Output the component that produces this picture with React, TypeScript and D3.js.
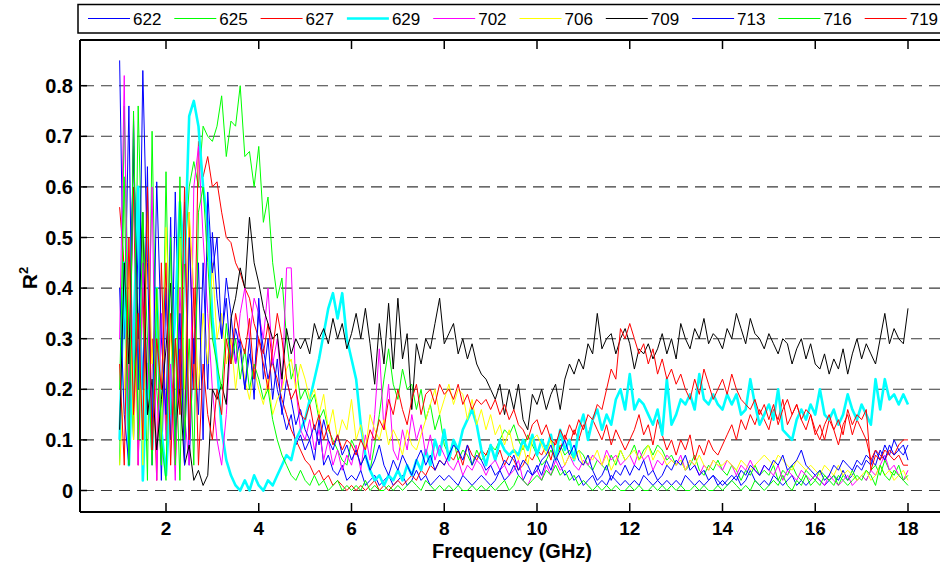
import React from 'react';
import * as d3 from 'd3';

// Frequency grid (GHz): 1.0 .. 18.0 in 0.1 GHz steps
const FREQ_START = 1.0;
const FREQ_STEP = 0.1;

// R^2 values per series, one row per GHz (x.0 .. x.9), last value at 18.0
const s622 = [
  0.85, 0.3, 0.76, 0.1, 0.5, 0.2, 0.64, 0.05, 0.35, 0.02,
  0.4, 0.1, 0.59, 0.2, 0.57, 0.05, 0.3, 0.15, 0.45, 0.2,
  0.51, 0.38, 0.3, 0.42, 0.35, 0.25, 0.3, 0.2, 0.27, 0.22,
  0.35, 0.28, 0.22, 0.26, 0.2, 0.16, 0.12, 0.15, 0.09, 0.11,
  0.08, 0.1, 0.06, 0.14, 0.05, 0.07, 0.04, 0.03, 0.05, 0.02,
  0.03, 0.02, 0.04, 0.01, 0.02, 0.03, 0.01, 0.02, 0.03, 0.01,
  0.02, 0.03, 0.01, 0.02, 0.04, 0.02, 0.03, 0.01, 0.02, 0.03,
  0.02, 0.03, 0.02, 0.01, 0.03, 0.02, 0.01, 0.02, 0.03, 0.02,
  0.01, 0.02, 0.04, 0.02, 0.03, 0.05, 0.03, 0.02, 0.04, 0.03,
  0.05, 0.03, 0.06, 0.04, 0.07, 0.05, 0.03, 0.04, 0.02, 0.03,
  0.01, 0.02, 0.03, 0.01, 0.02, 0.01, 0.03, 0.02, 0.01, 0.02,
  0.01, 0.02, 0.01, 0.03, 0.02, 0.01, 0.02, 0.01, 0.02, 0.01,
  0.02, 0.01, 0.03, 0.02, 0.01, 0.02, 0.01, 0.02, 0.03, 0.01,
  0.02, 0.01, 0.02, 0.03, 0.01, 0.02, 0.04, 0.02, 0.01, 0.02,
  0.01, 0.03, 0.02, 0.01, 0.02, 0.03, 0.01, 0.02, 0.01, 0.02,
  0.03, 0.02, 0.01, 0.02, 0.03, 0.02, 0.04, 0.02, 0.03, 0.05,
  0.04, 0.06, 0.05, 0.08, 0.06, 0.09, 0.07, 0.1, 0.08, 0.09,
  0.06,
];

const s625 = [
  0.05, 0.76, 0.3, 0.1, 0.76, 0.4, 0.02, 0.71, 0.2, 0.05,
  0.63, 0.15, 0.3, 0.02, 0.45, 0.6, 0.65, 0.6, 0.72, 0.7,
  0.69, 0.72, 0.78, 0.66, 0.73, 0.72, 0.8, 0.66, 0.67, 0.6,
  0.68, 0.53, 0.58, 0.45, 0.38, 0.42, 0.3, 0.22, 0.25, 0.18,
  0.2, 0.17, 0.19, 0.14, 0.16, 0.12, 0.1, 0.08, 0.06, 0.05,
  0.1, 0.08, 0.05, 0.07, 0.04, 0.09, 0.15, 0.22, 0.28, 0.21,
  0.18, 0.24, 0.2, 0.21, 0.16, 0.2, 0.14, 0.17, 0.12, 0.15,
  0.09, 0.07, 0.1, 0.06, 0.08, 0.07, 0.05, 0.08, 0.06, 0.07,
  0.09, 0.08, 0.1, 0.12, 0.11, 0.13, 0.1, 0.08, 0.11, 0.09,
  0.07, 0.05, 0.06, 0.08, 0.06, 0.09, 0.07, 0.08, 0.06, 0.08,
  0.07, 0.05, 0.04, 0.06, 0.05, 0.04, 0.07, 0.05, 0.08, 0.06,
  0.07, 0.09, 0.06, 0.08, 0.09, 0.07, 0.09, 0.08, 0.06, 0.07,
  0.05, 0.06, 0.04, 0.05, 0.07, 0.04, 0.03, 0.05, 0.04, 0.06,
  0.04, 0.03, 0.05, 0.04, 0.02, 0.04, 0.03, 0.05, 0.03, 0.04,
  0.03, 0.05, 0.02, 0.04, 0.03, 0.05, 0.03, 0.02, 0.04, 0.03,
  0.02, 0.04, 0.03, 0.02, 0.03, 0.01, 0.03, 0.02, 0.04, 0.02,
  0.03, 0.02, 0.04, 0.05, 0.03, 0.06, 0.04, 0.03, 0.05, 0.02,
  0.01,
];

const s627 = [
  0.56, 0.44, 0.2, 0.6, 0.05, 0.4, 0.15, 0.3, 0.02, 0.45,
  0.12, 0.35, 0.05, 0.28, 0.1, 0.55, 0.2, 0.69, 0.62, 0.66,
  0.6, 0.61, 0.55, 0.5, 0.49, 0.45, 0.43, 0.4, 0.38, 0.33,
  0.3, 0.27, 0.33, 0.25, 0.22, 0.18, 0.15, 0.12, 0.1, 0.08,
  0.06, 0.05, 0.03, 0.04, 0.02, 0.03, 0.01, 0.02, 0.01, 0.0,
  0.01, 0.0, 0.01, 0.0, 0.01, 0.02, 0.0, 0.01, 0.0, 0.01,
  0.02, 0.01, 0.02, 0.03, 0.02, 0.04, 0.03, 0.05, 0.04, 0.06,
  0.05, 0.07, 0.06, 0.08, 0.05, 0.09, 0.07, 0.06, 0.08, 0.07,
  0.09, 0.06, 0.08, 0.05, 0.07, 0.06, 0.04, 0.05, 0.07, 0.06,
  0.08, 0.07, 0.09, 0.06, 0.1, 0.08, 0.11, 0.09, 0.12, 0.1,
  0.13, 0.11, 0.14, 0.12, 0.1, 0.13, 0.09, 0.12, 0.1, 0.08,
  0.1, 0.12, 0.15, 0.11, 0.13, 0.09, 0.14, 0.11, 0.08, 0.1,
  0.07, 0.1, 0.08, 0.11, 0.06, 0.09, 0.07, 0.1, 0.08, 0.07,
  0.09, 0.11, 0.13, 0.1, 0.14, 0.12, 0.15, 0.13, 0.16, 0.14,
  0.12, 0.16, 0.14, 0.18, 0.13, 0.15, 0.17, 0.14, 0.12, 0.15,
  0.11, 0.13, 0.1, 0.14, 0.12, 0.09, 0.13, 0.15, 0.11, 0.14,
  0.12, 0.1, 0.06, 0.08, 0.07, 0.06, 0.08, 0.07, 0.09, 0.1,
  0.1,
];

const s629 = [
  0.1, 0.45, 0.05, 0.3, 0.6, 0.02, 0.25, 0.08, 0.4, 0.12,
  0.03, 0.2, 0.35, 0.57, 0.45, 0.74, 0.77, 0.72, 0.6, 0.53,
  0.34, 0.25, 0.12, 0.06, 0.03, 0.01, 0.0, 0.02, 0.0, 0.03,
  0.01, 0.0, 0.02, 0.01, 0.03, 0.05, 0.07, 0.06, 0.1, 0.12,
  0.14, 0.18, 0.22, 0.26, 0.31, 0.36, 0.39, 0.34, 0.39, 0.3,
  0.26, 0.22, 0.13, 0.07, 0.04, 0.02, 0.03, 0.01, 0.03, 0.02,
  0.04, 0.02, 0.05, 0.03, 0.06, 0.04, 0.08, 0.05, 0.1, 0.07,
  0.12, 0.06, 0.1, 0.08, 0.12, 0.14, 0.16, 0.13, 0.08, 0.05,
  0.09, 0.06, 0.1, 0.08, 0.07, 0.08, 0.07, 0.1, 0.08, 0.11,
  0.07, 0.1, 0.08, 0.11, 0.06, 0.12, 0.08, 0.1, 0.06, 0.12,
  0.15, 0.1, 0.14, 0.16, 0.12, 0.15, 0.13, 0.18, 0.2, 0.16,
  0.23, 0.16, 0.18, 0.17, 0.15, 0.13, 0.16, 0.11, 0.22, 0.13,
  0.15, 0.18, 0.17, 0.19, 0.16, 0.23, 0.18, 0.17, 0.19, 0.17,
  0.16, 0.19, 0.17, 0.19, 0.15, 0.16, 0.22, 0.17, 0.13, 0.15,
  0.17, 0.14, 0.2, 0.12, 0.11, 0.1, 0.14, 0.16, 0.14, 0.17,
  0.15, 0.2, 0.15, 0.14, 0.16, 0.13, 0.15, 0.19, 0.16, 0.14,
  0.17, 0.15, 0.13, 0.22, 0.16, 0.22, 0.18, 0.19, 0.17, 0.19,
  0.17,
];

const s702 = [
  0.3, 0.82, 0.1, 0.74, 0.05, 0.45, 0.2, 0.6, 0.02, 0.35,
  0.1, 0.25, 0.02, 0.4, 0.15, 0.05, 0.6, 0.68, 0.5, 0.35,
  0.2, 0.1, 0.05, 0.15, 0.3, 0.25, 0.35, 0.4, 0.3, 0.38,
  0.35, 0.3, 0.4, 0.25, 0.3, 0.2, 0.44, 0.44, 0.2, 0.12,
  0.1, 0.14, 0.08, 0.12, 0.06, 0.1, 0.05, 0.08, 0.04, 0.07,
  0.05, 0.09, 0.04, 0.11, 0.06, 0.15, 0.28, 0.12, 0.21, 0.08,
  0.06, 0.12, 0.08, 0.15, 0.1, 0.13, 0.07, 0.11, 0.06, 0.09,
  0.07, 0.05, 0.04, 0.06, 0.03, 0.05, 0.04, 0.06, 0.05, 0.03,
  0.05, 0.06, 0.04, 0.05, 0.03, 0.04, 0.06, 0.02, 0.01, 0.03,
  0.04, 0.02, 0.05, 0.03, 0.06, 0.04, 0.05, 0.07, 0.05, 0.04,
  0.06, 0.05, 0.07, 0.06, 0.05, 0.08, 0.06, 0.07, 0.05, 0.06,
  0.07, 0.05, 0.08, 0.06, 0.07, 0.04, 0.06, 0.05, 0.07, 0.06,
  0.05, 0.07, 0.04, 0.06, 0.05, 0.03, 0.05, 0.04, 0.06, 0.05,
  0.04, 0.06, 0.05, 0.03, 0.05, 0.04, 0.06, 0.04, 0.03, 0.05,
  0.04, 0.03, 0.05, 0.02, 0.04, 0.03, 0.02, 0.04, 0.03, 0.02,
  0.03, 0.02, 0.01, 0.03, 0.02, 0.01, 0.02, 0.03, 0.01, 0.02,
  0.03, 0.02, 0.04, 0.03, 0.05, 0.07, 0.04, 0.05, 0.03, 0.02,
  0.04,
];

const s706 = [
  0.05, 0.2, 0.45, 0.1, 0.35, 0.05, 0.55, 0.25, 0.4, 0.1,
  0.52, 0.3, 0.15, 0.5, 0.2, 0.55, 0.4, 0.2, 0.35, 0.25,
  0.45, 0.3, 0.35, 0.25, 0.3, 0.2, 0.28, 0.22, 0.18, 0.24,
  0.2, 0.17, 0.22, 0.15, 0.18, 0.2, 0.24, 0.26, 0.2, 0.25,
  0.22, 0.18, 0.2, 0.15, 0.19, 0.12, 0.16, 0.1, 0.14, 0.12,
  0.18, 0.1, 0.13, 0.08, 0.15, 0.12, 0.1, 0.14, 0.09, 0.12,
  0.1, 0.07, 0.12, 0.09, 0.08, 0.11, 0.14, 0.17, 0.2, 0.15,
  0.18, 0.21, 0.17, 0.2, 0.19, 0.14, 0.18, 0.13, 0.16, 0.12,
  0.15, 0.11, 0.13, 0.09, 0.12, 0.08, 0.06, 0.09, 0.05, 0.1,
  0.11, 0.09, 0.07, 0.1, 0.06, 0.08, 0.05, 0.07, 0.06, 0.08,
  0.05, 0.07, 0.06, 0.08, 0.05, 0.07, 0.04, 0.06, 0.08, 0.06,
  0.07, 0.08, 0.06, 0.07, 0.09, 0.06, 0.08, 0.07, 0.05, 0.06,
  0.05, 0.06, 0.04, 0.06, 0.05, 0.07, 0.05, 0.04, 0.06, 0.05,
  0.05, 0.06, 0.05, 0.04, 0.06, 0.05, 0.04, 0.05, 0.06, 0.07,
  0.06, 0.05, 0.07, 0.06, 0.05, 0.04, 0.06, 0.05, 0.04, 0.05,
  0.04, 0.03, 0.05, 0.04, 0.03, 0.05, 0.03, 0.04, 0.03, 0.02,
  0.03, 0.04, 0.02, 0.03, 0.05, 0.03, 0.04, 0.02, 0.03, 0.04,
  0.02,
];

const s709 = [
  0.12, 0.45, 0.25, 0.68, 0.3, 0.55, 0.15, 0.22, 0.08, 0.18,
  0.28, 0.41, 0.12, 0.2, 0.05, 0.09, 0.02, 0.04, 0.01, 0.03,
  0.2, 0.18, 0.21, 0.17, 0.34, 0.38, 0.44, 0.4, 0.54, 0.45,
  0.41, 0.36, 0.33, 0.3, 0.31, 0.22, 0.32, 0.27, 0.3, 0.28,
  0.3, 0.27, 0.33, 0.3, 0.32, 0.29, 0.34, 0.3, 0.33, 0.28,
  0.31, 0.35, 0.3, 0.36, 0.29, 0.21, 0.33, 0.25, 0.37, 0.24,
  0.38, 0.26, 0.31, 0.16, 0.29, 0.25, 0.3, 0.28, 0.33, 0.38,
  0.29, 0.31, 0.33, 0.27, 0.3, 0.26, 0.29, 0.25, 0.23, 0.22,
  0.2, 0.18, 0.21, 0.15, 0.2, 0.16, 0.21, 0.14, 0.12, 0.19,
  0.17, 0.2, 0.16, 0.19, 0.21, 0.16, 0.22, 0.25, 0.23, 0.26,
  0.24, 0.29, 0.27, 0.35, 0.28, 0.3, 0.31, 0.27, 0.3, 0.32,
  0.29, 0.24, 0.28, 0.27, 0.29, 0.26, 0.28, 0.31, 0.27, 0.3,
  0.26, 0.33, 0.3, 0.28, 0.32, 0.3, 0.34, 0.29, 0.31, 0.3,
  0.28, 0.32, 0.3, 0.35, 0.32, 0.29, 0.34, 0.31, 0.3, 0.28,
  0.31, 0.29, 0.27, 0.3, 0.29, 0.25, 0.28, 0.3, 0.26, 0.29,
  0.25, 0.24, 0.27, 0.23, 0.26, 0.24, 0.28, 0.23, 0.27, 0.3,
  0.26, 0.29, 0.27, 0.25, 0.3, 0.35, 0.29, 0.32, 0.3, 0.29,
  0.36,
];

const s713 = [
  0.4, 0.15, 0.05, 0.73, 0.2, 0.83, 0.45, 0.1, 0.61, 0.3,
  0.15, 0.54, 0.1, 0.35, 0.05, 0.5, 0.25, 0.45, 0.1, 0.59,
  0.43, 0.5, 0.3, 0.38, 0.25, 0.32, 0.28, 0.2, 0.3, 0.18,
  0.38, 0.22, 0.3, 0.18, 0.26, 0.15, 0.22, 0.18, 0.13, 0.16,
  0.12, 0.1, 0.13, 0.09, 0.14, 0.1, 0.08, 0.11, 0.07, 0.09,
  0.06, 0.08, 0.05, 0.07, 0.04, 0.06, 0.09, 0.05, 0.03, 0.06,
  0.04, 0.07, 0.05, 0.03, 0.06, 0.08, 0.05, 0.07, 0.04, 0.06,
  0.05, 0.07, 0.09, 0.08, 0.06, 0.09, 0.05, 0.07, 0.06, 0.04,
  0.05, 0.03, 0.04, 0.06, 0.05, 0.07, 0.04, 0.06, 0.05, 0.03,
  0.04, 0.06, 0.07, 0.09, 0.06, 0.08, 0.1, 0.07, 0.09, 0.06,
  0.05, 0.07, 0.04, 0.02, 0.03, 0.05, 0.02, 0.04, 0.03, 0.05,
  0.03, 0.05, 0.04, 0.06, 0.03, 0.04, 0.02, 0.03, 0.05, 0.04,
  0.06, 0.05, 0.07, 0.04, 0.05, 0.03, 0.04, 0.02, 0.03, 0.02,
  0.01, 0.02, 0.03, 0.02, 0.04, 0.03, 0.05, 0.04, 0.03, 0.05,
  0.04, 0.06, 0.05, 0.07, 0.04, 0.05, 0.06, 0.08, 0.05, 0.04,
  0.03, 0.04, 0.02, 0.03, 0.05, 0.04, 0.06, 0.05, 0.04, 0.06,
  0.05, 0.07, 0.06, 0.05, 0.08, 0.06, 0.09, 0.07, 0.08, 0.07,
  0.09,
];

const s716 = [
  0.2, 0.62, 0.05, 0.75, 0.1, 0.55, 0.3, 0.05, 0.4, 0.1,
  0.02, 0.5, 0.05, 0.62, 0.1, 0.3, 0.05, 0.55, 0.6, 0.45,
  0.3, 0.25, 0.2, 0.33, 0.25, 0.3, 0.22, 0.28, 0.2, 0.25,
  0.22, 0.18, 0.2, 0.14, 0.1, 0.07, 0.05, 0.03, 0.02, 0.04,
  0.02, 0.01, 0.03, 0.01, 0.02, 0.0, 0.01, 0.02, 0.0, 0.01,
  0.0, 0.01, 0.0, 0.02, 0.0, 0.01, 0.0, 0.0, 0.01, 0.0,
  0.01, 0.0, 0.01, 0.02, 0.01, 0.0, 0.02, 0.01, 0.0, 0.01,
  0.0, 0.01, 0.0, 0.01, 0.0, 0.0, 0.01, 0.0, 0.01, 0.0,
  0.01, 0.0, 0.01, 0.02, 0.0, 0.01, 0.03, 0.02, 0.01, 0.02,
  0.03, 0.02, 0.04, 0.03, 0.05, 0.03, 0.04, 0.02, 0.03, 0.01,
  0.02, 0.01, 0.0, 0.01, 0.0, 0.01, 0.0, 0.01, 0.0, 0.0,
  0.01, 0.0, 0.01, 0.0, 0.0, 0.01, 0.0, 0.01, 0.0, 0.01,
  0.0, 0.01, 0.0, 0.0, 0.01, 0.0, 0.01, 0.0, 0.0, 0.01,
  0.0, 0.01, 0.02, 0.01, 0.0, 0.01, 0.0, 0.02, 0.01, 0.0,
  0.01, 0.02, 0.01, 0.03, 0.01, 0.0, 0.02, 0.01, 0.03, 0.01,
  0.02, 0.01, 0.03, 0.02, 0.01, 0.03, 0.02, 0.01, 0.02, 0.03,
  0.02, 0.04, 0.03, 0.01, 0.05, 0.03, 0.02, 0.04, 0.03, 0.02,
  0.03,
];

const s719 = [
  0.25, 0.05, 0.5, 0.15, 0.35, 0.1, 0.6, 0.08, 0.3, 0.2,
  0.45, 0.05, 0.3, 0.15, 0.6, 0.1, 0.4, 0.05, 0.25, 0.15,
  0.1, 0.2, 0.15, 0.3, 0.25, 0.35, 0.3, 0.27, 0.34, 0.22,
  0.3, 0.25, 0.2, 0.28, 0.35, 0.3, 0.22, 0.18, 0.2, 0.15,
  0.14, 0.17, 0.12, 0.15, 0.1, 0.13, 0.09, 0.11, 0.08, 0.1,
  0.09, 0.07, 0.1, 0.08, 0.12, 0.1, 0.14, 0.12, 0.18, 0.15,
  0.2, 0.16, 0.13, 0.18, 0.21, 0.15, 0.19, 0.2, 0.17, 0.21,
  0.19, 0.2, 0.18, 0.21, 0.17, 0.19, 0.16, 0.18, 0.17, 0.18,
  0.16, 0.18, 0.15, 0.17, 0.14, 0.16, 0.13, 0.12, 0.1, 0.13,
  0.14, 0.11, 0.13, 0.1, 0.09, 0.12, 0.1, 0.13, 0.11, 0.14,
  0.12, 0.15, 0.14, 0.17, 0.16, 0.2, 0.24, 0.22, 0.32, 0.3,
  0.33, 0.3, 0.27, 0.29, 0.25, 0.28, 0.23, 0.26, 0.22, 0.24,
  0.21, 0.23, 0.2, 0.18, 0.22, 0.19, 0.24, 0.21, 0.18, 0.2,
  0.22, 0.19, 0.23, 0.2, 0.18, 0.17, 0.16, 0.18, 0.15, 0.17,
  0.14, 0.17, 0.13, 0.16, 0.18, 0.15, 0.17, 0.14, 0.16, 0.15,
  0.12, 0.1, 0.13, 0.15, 0.12, 0.14, 0.11, 0.16, 0.13, 0.15,
  0.14, 0.16, 0.04, 0.07, 0.06, 0.08, 0.07, 0.06, 0.07, 0.05,
  0.05,
];

const SERIES_NAMES = ['622', '625', '627', '629', '702', '706', '709', '713', '716', '719'];
const SERIES_VALUES = [s622, s625, s627, s629, s702, s706, s709, s713, s716, s719];
const SERIES_COLORS = ['#0000ff', '#00ff00', '#ff0000', '#00ffff', '#ff00ff', '#ffff00', '#000000', '#0000ff', '#00ff00', '#ff0000'];
const SERIES_WIDTHS = [1, 1, 1, 2.6, 1, 1, 1, 1, 1, 1];

const X_TICKS = [2, 4, 6, 8, 10, 12, 14, 16, 18];
const Y_TICKS = [0, 0.1, 0.2, 0.3, 0.4, 0.5, 0.6, 0.7, 0.8];
const Y_TICK_LABELS = ['0', '0.1', '0.2', '0.3', '0.4', '0.5', '0.6', '0.7', '0.8'];

const W = 940;
const H = 565;
const AX_LEFT = 80;
const AX_TOP = 40;
const AX_BOTTOM = 512;
const AX_RIGHT = 960;

export default function App() {
  const x = d3.scaleLinear().domain([2, 18]).range([166, 908]);
  const y = d3.scaleLinear().domain([0, 0.8]).range([490.5, 85.7]);
  const line = d3
    .line<number | null>()
    .defined((d) => d != null)
    .x((_, i) => x(FREQ_START + i * FREQ_STEP))
    .y((d) => y(d as number));

  const font = 'Liberation Sans, Arial, Helvetica, sans-serif';
  const legendStep = 86.3;

  return (
    <svg
      width={W}
      height={H}
      viewBox={`0 0 ${W} ${H}`}
      style={{ position: 'absolute', left: 0, top: 0, background: '#fff' }}
    >
      <rect x={0} y={0} width={W} height={H} fill="#fff" />
      {/* grid */}
      {Y_TICKS.map((t) => (
        <line
          key={'g' + t}
          x1={AX_LEFT}
          x2={W}
          y1={y(t)}
          y2={y(t)}
          stroke="#3a3a3a"
          strokeWidth={1.1}
          strokeDasharray="11,7"
          strokeDashoffset={-3}
        />
      ))}
      {/* series */}
      <g>
        {SERIES_VALUES.map((vals, k) => (
          <path
            key={SERIES_NAMES[k]}
            d={line(vals) || ''}
            fill="none"
            stroke={SERIES_COLORS[k]}
            strokeWidth={SERIES_WIDTHS[k]}
            strokeLinejoin="round"
          />
        ))}
      </g>
      {/* axes box */}
      <line x1={AX_LEFT} x2={AX_RIGHT} y1={AX_BOTTOM} y2={AX_BOTTOM} stroke="#000" strokeWidth={2} />
      <line x1={AX_LEFT} x2={AX_RIGHT} y1={AX_TOP} y2={AX_TOP} stroke="#000" strokeWidth={2} />
      <line x1={AX_LEFT} x2={AX_LEFT} y1={AX_TOP} y2={AX_BOTTOM} stroke="#000" strokeWidth={2} />
      {X_TICKS.map((t) => (
        <g key={'xt' + t}>
          <line x1={x(t)} x2={x(t)} y1={AX_BOTTOM} y2={AX_BOTTOM - 9} stroke="#000" strokeWidth={1.5} />
          <line x1={x(t)} x2={x(t)} y1={AX_TOP} y2={AX_TOP + 9} stroke="#000" strokeWidth={1.5} />
          <text
            x={x(t)}
            y={535}
            textAnchor="middle"
            fontFamily={font}
            fontWeight="bold"
            fontSize={19}
          >
            {t}
          </text>
        </g>
      ))}
      {Y_TICKS.map((t, i) => (
        <g key={'yt' + t}>
          <line x1={AX_LEFT} x2={AX_LEFT + 7} y1={y(t)} y2={y(t)} stroke="#000" strokeWidth={1.5} />
          <text
            x={73}
            y={y(t) + 7}
            textAnchor="end"
            fontFamily={font}
            fontWeight="bold"
            fontSize={20}
          >
            {Y_TICK_LABELS[i]}
          </text>
        </g>
      ))}
      <text
        x={512}
        y={558}
        textAnchor="middle"
        fontFamily={font}
        fontWeight="bold"
        fontSize={20}
      >
        Frequency (GHz)
      </text>
      <text
        transform="translate(37,278) rotate(-90)"
        textAnchor="middle"
        fontFamily={font}
        fontWeight="bold"
        fontSize={21}
      >
        R
        <tspan fontSize={13} dy={-9}>
          2
        </tspan>
      </text>
      {/* legend */}
      <rect x={78} y={4.5} width={900} height={28.5} fill="#fff" stroke="#000" strokeWidth={1.5} />
      {SERIES_NAMES.map((n, k) => {
        const x0 = 88 + k * legendStep;
        return (
          <g key={'lg' + n}>
            <line
              x1={x0}
              x2={x0 + 42}
              y1={18.5}
              y2={18.5}
              stroke={SERIES_COLORS[k]}
              strokeWidth={SERIES_WIDTHS[k]}
            />
            <text x={x0 + 45} y={25} fontFamily={font} fontSize={17}>
              {n}
            </text>
          </g>
        );
      })}
    </svg>
  );
}
